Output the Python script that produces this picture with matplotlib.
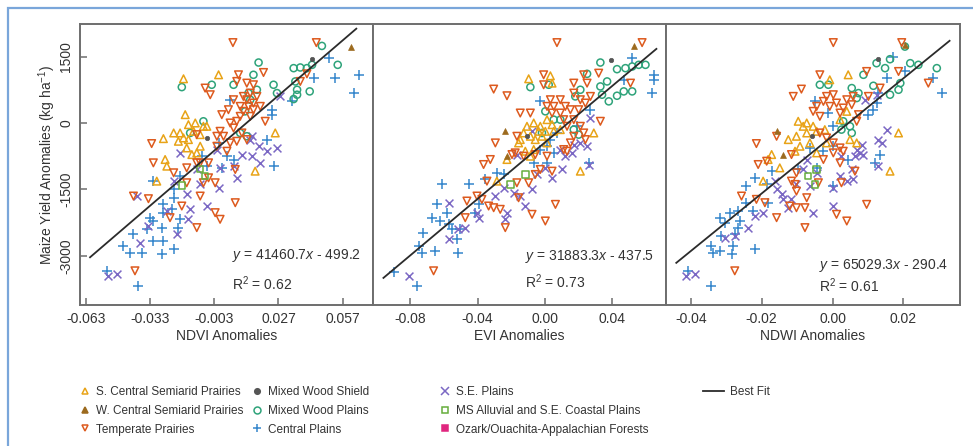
import matplotlib
matplotlib.use("Agg")
import matplotlib.pyplot as plt
from matplotlib.lines import Line2D
from matplotlib.patches import Rectangle

plt.rcParams["font.family"] = ["Liberation Sans", "DejaVu Sans"]
plt.rcParams["mathtext.fontset"] = "custom"
plt.rcParams["mathtext.rm"] = "Liberation Sans"
plt.rcParams["mathtext.it"] = "Liberation Sans:italic"

# ---- data: (anomaly, yield anomaly kg/ha) ----
# NDVI panel
NDVI_SC = [(-0.0268, -353), (-0.0299, -1313), (-0.026, -825), (-0.0252, -975), (-0.0166, 188),
           (-0.0174, 998), (-0.0198, -413), (-0.0151, -38), (-0.0119, 0), (-0.0127, -188),
           (-0.0096, -263), (-0.0081, -75), (-0.0159, -563), (-0.0135, -713), (-0.019, -225),
           (-0.0174, -338), (-0.0096, -525), (-0.022, -225), (-0.001, 1088), (-0.0065, -75),
           (0.0255, -225), (0.0161, -1088), (-0.0112, -675), (-0.0151, -375)]
NDVI_WC = [(0.0609, 1725)]
NDVI_TP = [(0.0057, 1815), (0.0447, 1815), (0.0083, 1088), (0.02, 1140), (0.0122, 900),
           (0.0075, 938), (0.0153, 863), (0.0403, 1110), (0.0372, 938), (-0.0073, 788),
           (-0.0049, 638), (-0.0323, -465), (-0.0315, -900), (-0.0408, -1650), (-0.0338, -1710),
           (-0.0237, -2138), (-0.0182, -1875), (-0.0112, -2363), (-0.0003, -2175), (-0.0026, -2025),
           (0.0068, -1800), (-0.0401, -3338), (-0.0159, -1350), (-0.0112, -900), (-0.0081, -1350),
           (-0.0057, -1238), (-0.0026, -1350), (-0.0096, -1650), (-0.0112, -263), (-0.0057, -900),
           (0.0005, 188), (-0.0003, -188), (0.0013, -300), (0.0044, 0), (0.0075, 38),
           (0.006, -113), (0.0036, 300), (0.0091, 375), (0.0122, 525), (0.0153, 450),
           (0.0106, 600), (0.0138, 675), (0.0169, 600), (0.0185, 375), (0.006, 525),
           (0.0044, -450), (0.0075, -413), (0.0099, -225), (0.0122, -375), (0.0208, 38),
           (0.0029, -638), (0.0068, -1050), (0.0091, 150), (0.0138, 150), (0.0153, 300),
           (0.0106, 263), (0.013, 375), (-0.0018, -300), (-0.0018, -525), (-0.0096, -900),
           (-0.0159, -1013), (-0.022, -1125)]
NDVI_MWS = [(0.0427, 1440), (-0.0065, -338)]
NDVI_MWP = [(0.0473, 1740), (0.0177, 1365), (0.0153, 1088), (0.006, 863), (-0.0042, 863),
            (-0.0182, 810), (0.0341, 1238), (0.0372, 1253), (0.0403, 1238), (0.0427, 1313),
            (0.0547, 1313), (0.0349, 938), (0.0357, 750), (0.0357, 638), (0.0341, 540),
            (0.0416, 713), (0.0247, 863), (0.0169, 750), (0.013, 675), (0.0138, 525),
            (0.0114, 263), (-0.0081, 38), (-0.0143, -225), (0.0091, -225), (0.0122, -300),
            (0.0263, 675)]
NDVI_CP = [(0.0505, 1478), (0.0434, 1005), (0.0536, 1005), (0.0645, 1088), (0.0622, 675),
           (0.0333, 488), (0.0044, 525), (0.0239, 300), (0.0239, 188), (0.0247, -975),
           (0.0216, -375), (-0.001, -450), (0.0029, -750), (0.006, -825), (0.0005, -1013),
           (-0.0088, -750), (-0.0065, -975), (-0.019, -1200), (-0.022, -1500), (-0.022, -1688),
           (-0.0268, -1838), (-0.0229, -1950), (-0.019, -2175), (-0.0198, -2363), (-0.0268, -2025),
           (-0.033, -2138), (-0.0315, -2213), (-0.0276, -2363), (-0.0346, -2400), (-0.0315, -2663),
           (-0.0268, -2663), (-0.0408, -2513), (-0.0455, -2775), (-0.0424, -2925), (-0.037, -2940),
           (-0.0276, -2963), (-0.022, -2850), (-0.0315, -1313), (-0.0533, -3338), (-0.0385, -3675)]
NDVI_SE = [(-0.0525, -3450), (-0.0486, -3413), (-0.0393, -1650), (-0.0377, -2700), (-0.0338, -2325),
           (-0.0252, -1988), (-0.0206, -2513), (-0.0151, -2175), (-0.0143, -1950), (-0.0159, -1613),
           (-0.019, -675), (-0.022, -1313), (-0.0096, -1388), (-0.0065, -1875), (-0.001, -1463),
           (-0.0003, -1013), (0.0075, -1238), (0.006, -975), (0.0099, -713), (0.0146, -750),
           (0.0177, -525), (0.0146, -300), (0.0216, -638), (0.0263, -563), (0.0185, -900),
           (0.0138, -375), (0.0278, 600), (-0.0018, -600), (-0.0112, -1050)]
NDVI_MS = [(-0.0182, -1410), (-0.0096, -1035), (-0.0073, -1200)]
NDVI_OZ = []

# EVI panel
EVI_SC = [(-0.0097, 998), (0.0032, 1065), (0.0042, 900), (-0.0147, -375), (-0.0157, -450),
          (-0.0226, -825), (-0.0107, -75), (-0.0067, 0), (-0.0028, -75), (-0.0038, -188),
          (-0.0087, -300), (-0.0058, -375), (-0.0018, -300), (0.0002, -188), (0.0012, 75),
          (0.0042, -38), (0.0052, -188), (-0.0117, -638), (-0.0087, -750), (-0.0067, -600),
          (0.0012, -450), (0.0091, -150), (0.021, -1088), (0.029, -225), (-0.0286, -1313),
          (-0.0127, -225)]
EVI_WC = [(-0.0236, -173), (-0.0226, -735), (0.0531, 1740)]
EVI_TP = [(0.0071, 1815), (0.0577, 1815), (-0.0305, 765), (-0.0226, 615), (-0.0008, 1088),
          (-0.0008, 863), (0.0319, 1125), (0.0508, 900), (0.0171, 900), (0.023, 1088),
          (0.025, 900), (0.0171, 675), (0.021, 525), (0.0091, 525), (0.0121, 375),
          (0.0052, 375), (0.0042, 225), (0.0091, 225), (0.0151, 300), (0.02, 300),
          (0.024, 450), (0.027, 600), (0.0171, 75), (0.0111, 75), (0.0131, -75),
          (0.021, -75), (0.023, -225), (0.024, -375), (0.0329, 38), (0.0151, -450),
          (0.0111, -600), (0.0131, -638), (-0.0147, 225), (-0.0087, 225), (-0.0167, -300),
          (-0.0177, -675), (-0.0127, -750), (-0.0295, -450), (-0.0325, -825), (-0.0365, -938),
          (-0.0345, -1313), (-0.0404, -1650), (-0.0464, -1763), (-0.0474, -2138), (-0.0662, -3338),
          (-0.0375, -1725), (-0.0335, -1875), (-0.0305, -1913), (-0.0266, -1950), (-0.0236, -2363),
          (-0.0157, -1688), (-0.0167, -1350), (-0.0097, -1350), (-0.0077, -2063), (0.0002, -2213),
          (0.0062, -1838), (-0.0058, -1163), (-0.0028, -1050), (0.0042, -1088), (0.0012, -750),
          (-0.0058, -713), (-0.0196, -713), (0.0012, 375), (0.0032, 525), (0.0171, -300)]
EVI_MWS = [(0.0393, 1425), (-0.0107, -300)]
EVI_MWP = [(0.0329, 1365), (0.0428, 1215), (0.0478, 1238), (0.0518, 1275), (0.0557, 1313),
           (0.0597, 1313), (-0.0087, 810), (0.0022, 863), (0.025, 1110), (0.0329, 825),
           (0.0369, 938), (0.0379, 488), (0.0428, 615), (0.0468, 713), (0.0518, 713),
           (0.0339, 638), (0.018, 600), (0.021, 750), (0.0171, -150), (0.02, -263),
           (0.0091, 75), (0.0052, 75), (0.0002, 263), (-0.0018, -225)]
EVI_CP = [(-0.09, -3375), (-0.0761, -3675), (-0.0751, -2775), (-0.0722, -2475), (-0.0732, -2925),
          (-0.0652, -2888), (-0.0672, -2138), (-0.0642, -1838), (-0.0613, -1388), (-0.0623, -2213),
          (-0.0583, -2025), (-0.0553, -2400), (-0.0523, -2625), (-0.0514, -2925), (-0.0504, -2400),
          (-0.0573, -2288), (-0.0454, -1388), (-0.0414, -2025), (-0.0395, -1838), (-0.0355, -1275),
          (-0.0286, -1125), (-0.0246, -1163), (-0.0028, 488), (-0.0028, -600), (0.0012, -525),
          (0.0052, -675), (0.0012, -900), (-0.0067, -900), (0.026, -900), (0.027, 300),
          (0.0518, 1463), (0.0646, 1088), (0.0646, 975), (0.0637, 675), (0.0468, 975),
          (0.0032, -375), (0.0071, -225), (0.019, -75)]
EVI_SE = [(-0.0811, -3450), (-0.0573, -1800), (-0.0573, -2625), (-0.0514, -2400), (-0.0474, -2363),
          (-0.0404, -2025), (-0.0395, -2138), (-0.0295, -1650), (-0.0246, -1463), (-0.0226, -2025),
          (-0.0236, -2175), (-0.0186, -1575), (-0.0147, -1650), (-0.0117, -1875), (-0.0077, -1500),
          (-0.0048, -1163), (0.0002, -1013), (0.0042, -1238), (0.0101, -1050), (0.0121, -750),
          (0.0161, -675), (0.0171, -488), (0.021, -450), (0.025, -525), (0.026, -938),
          (0.027, 113), (-0.0077, -188), (-0.0167, -713), (0.0091, -600)]
EVI_MS = [(-0.0117, -1163), (-0.0206, -1388)]
EVI_OZ = []

# NDWI panel
NDWI_SC = [(0.0044, 1088), (-0.0008, 975), (-0.0102, -300), (-0.0125, -375), (-0.0083, -75),
           (-0.0073, 0), (-0.0055, -75), (-0.0045, -188), (-0.0022, -150), (0.0021, 75),
           (0.004, 263), (-0.0073, -225), (-0.0092, -525), (-0.0064, -450), (-0.0045, -675),
           (-0.0106, -638), (-0.0172, -713), (-0.0149, -1013), (-0.0182, -825), (-0.0196, -1313),
           (0.0068, -450), (0.0049, -375), (0.0186, -225), (0.0162, -1088), (-0.0097, 38),
           (-0.0017, -450)]
NDWI_WC = [(-0.0158, -188), (-0.0139, -713), (0.0204, 1763)]
NDWI_TP = [(0.0002, 1815), (0.0195, 1815), (-0.0111, 600), (-0.0088, 765), (-0.0036, 1088),
           (0.0002, 638), (-0.0017, 600), (0.0096, 1163), (0.0134, 788), (0.0186, 1163),
           (0.027, 900), (0.0101, 600), (-0.0045, 375), (-0.0026, 488), (-0.0008, 375),
           (0.0011, 450), (0.003, 338), (0.004, 525), (0.0058, 600), (0.0054, 413),
           (0.0021, 225), (0.0073, 188), (0.0068, 38), (-0.0055, 263), (-0.0036, 150),
           (-0.0036, -225), (-0.0017, -338), (0.0002, -450), (0.0021, -563), (0.003, -638),
           (0.0002, -675), (-0.0026, -825), (-0.0158, -300), (-0.0215, -465), (-0.021, -938),
           (-0.0186, -863), (-0.0116, -713), (-0.0106, -1388), (-0.0102, -1538), (-0.0116, -1313),
           (-0.004, -1350), (0.0025, -1350), (0.0063, -1088), (-0.0257, -1650), (-0.0215, -1725),
           (-0.0191, -1800), (-0.0158, -2138), (-0.0121, -1875), (-0.0102, -1913), (-0.0078, -1913),
           (-0.0073, -1688), (-0.0078, -2363), (0.0011, -2063), (0.004, -2213), (0.0096, -1838),
           (-0.0276, -3338), (-0.0102, -1125), (0.0021, -900)]
NDWI_MWS = [(0.0129, 1440), (-0.0059, -300)]
NDWI_MWP = [(0.0087, 1088), (0.0124, 1350), (0.0148, 1238), (0.0162, 1440), (0.0204, 1725),
            (0.0219, 1350), (0.0242, 1313), (0.0294, 1238), (0.0115, 840), (0.0162, 638),
            (0.0186, 750), (0.0191, 900), (-0.0036, 863), (-0.0012, 863), (0.0054, 788),
            (0.0073, 675), (0.0068, 563), (0.0049, -75), (0.0054, -225), (0.003, 38),
            (0.0025, -150)]
NDWI_CP = [(-0.0342, -3675), (-0.0408, -3338), (-0.0342, -2775), (-0.0337, -2925), (-0.0318, -2888),
           (-0.0285, -2963), (-0.028, -2775), (-0.0275, -2513), (-0.0314, -2550), (-0.0266, -2363),
           (-0.0262, -2213), (-0.0304, -2250), (-0.0318, -2138), (-0.029, -2025), (-0.0266, -1988),
           (-0.0224, -1988), (-0.0219, -2850), (-0.0243, -1425), (-0.0219, -1238), (-0.0172, -1088),
           (-0.0186, -1388), (-0.0182, -1800), (-0.0243, -1800), (-0.0097, -1050), (-0.005, 488),
           (-0.0012, 225), (0.0002, -75), (0.0002, -525), (-0.0026, -638), (-0.0064, -563),
           (-0.0045, -1013), (0.0002, -1425), (0.0101, 188), (0.0115, 300), (0.0124, 450),
           (0.0129, 675), (0.0153, 1013), (0.0171, 1500), (0.0134, -713), (0.012, -900),
           (0.0204, 1163), (0.0284, 1013), (0.0308, 675), (0.0044, -825)]
NDWI_SE = [(-0.0413, -3450), (-0.0389, -3413), (-0.0304, -2588), (-0.0276, -2550), (-0.0238, -2363),
           (-0.0219, -2100), (-0.0196, -2025), (-0.0158, -1500), (-0.0163, -1313), (-0.0144, -1613),
           (-0.0139, -1725), (-0.0125, -1913), (-0.0116, -1725), (-0.0102, -1388), (-0.0083, -1050),
           (-0.0064, -1425), (-0.0055, -2025), (-0.0045, -1125), (0.0002, -1463), (0.0002, -1875),
           (0.002, -1200), (0.004, -1313), (0.0054, -1050), (0.0058, -1275), (0.0068, -600),
           (0.0077, -675), (0.0082, -488), (0.0087, -713), (0.0063, -750), (0.0091, 525),
           (0.0124, 638), (0.0129, -375), (0.0138, -450), (0.0153, -150), (0.0129, -975),
           (0.0025, -750), (-0.0073, -825)]
NDWI_MS = [(-0.0045, -1050), (-0.005, -1388), (-0.0069, -1200)]
NDWI_OZ = []

# fitted lines: slope, intercept, x-extent of the drawn line
FITS = [(41460.7, -499.2, -0.0611, 0.0634), (31883.3, -437.5, -0.096, 0.0662),
        (65029.3, -290.4, -0.0441, 0.033)]
R2 = [0.62, 0.73, 0.61]
XLABELS = ["NDVI Anomalies", "EVI Anomalies", "NDWI Anomalies"]
XTICKS = [[-0.063, -0.033, -0.003, 0.027, 0.057], [-0.08, -0.04, 0.0, 0.04], [-0.04, -0.02, 0.0, 0.02]]
XTICKLABELS = [["-0.063", "-0.033", "-0.003", "0.027", "0.057"],
               ["-0.08", "-0.04", "0.00", "0.04"], ["-0.04", "-0.02", "0.00", "0.02"]]
XLIMS = [(-0.0658, 0.0712), (-0.1022, 0.0719), (-0.047, 0.0358)]
YTICKS = [-3000, -1500, 0, 1500]

REGIONS = ["S. Central Semiarid Prairies", "W. Central Semiarid Prairies", "Temperate Prairies",
           "Mixed Wood Shield", "Mixed Wood Plains", "Central Plains",
           "S.E. Plains", "MS Alluvial and S.E. Coastal Plains", "Ozark/Ouachita-Appalachian Forests"]
PANELS = [
    [NDVI_SC, NDVI_WC, NDVI_TP, NDVI_MWS, NDVI_MWP, NDVI_CP, NDVI_SE, NDVI_MS, NDVI_OZ],
    [EVI_SC, EVI_WC, EVI_TP, EVI_MWS, EVI_MWP, EVI_CP, EVI_SE, EVI_MS, EVI_OZ],
    [NDWI_SC, NDWI_WC, NDWI_TP, NDWI_MWS, NDWI_MWP, NDWI_CP, NDWI_SE, NDWI_MS, NDWI_OZ],
]

# marker, colour, filled, size
STYLE = {
    "S. Central Semiarid Prairies": ("^", "#E8A317", False, 30),
    "W. Central Semiarid Prairies": ("^", "#9C6A1E", True, 18),
    "Temperate Prairies": ("v", "#DD5A1E", False, 30),
    "Mixed Wood Shield": ("o", "#555555", True, 10),
    "Mixed Wood Plains": ("o", "#2EA37A", False, 26),
    "Central Plains": ("+", "#3586CC", False, 50),
    "S.E. Plains": ("x", "#7B68C4", False, 32),
    "MS Alluvial and S.E. Coastal Plains": ("s", "#66AD3C", False, 22),
    "Ozark/Ouachita-Appalachian Forests": ("s", "#E0267F", True, 20),
}
DRAW_ORDER = [5, 6, 4, 0, 2, 1, 3, 7, 8]
SPINE = "#6E6E6E"
TXT = "#333333"

fig = plt.figure(figsize=(9.73, 4.46), dpi=100)
fig.patches.append(Rectangle((8 / 973, -0.1), 1.2, (438 / 446) + 0.1, transform=fig.transFigure,
                             fill=False, edgecolor="#7AA6DA", linewidth=1.6, zorder=0))

lefts = [80 / 973, 373 / 973, 666 / 973]
widths = [293 / 973, 293 / 973, 293.5 / 973]
bottom, height = 141 / 446, 281 / 446
eq_y = [0.175, 0.172, 0.14]
r2_y = [0.076, 0.082, 0.068]
for i in range(3):
    ax = fig.add_axes([lefts[i], bottom, widths[i], height])
    for k in DRAW_ORDER:
        pts = PANELS[i][k]
        if not pts:
            continue
        mk, col, filled, s = STYLE[REGIONS[k]]
        xs = [p[0] for p in pts]
        ys = [p[1] for p in pts]
        if mk in ("+", "x"):
            ax.scatter(xs, ys, marker=mk, s=s, c=col, linewidths=1.1, zorder=2)
        elif filled:
            ax.scatter(xs, ys, marker=mk, s=s, c=col, edgecolors=col, linewidths=0.5, zorder=3)
        else:
            ax.scatter(xs, ys, marker=mk, s=s, facecolors="none", edgecolors=col,
                       linewidths=1.1, zorder=2)
    a, b, x0, x1 = FITS[i]
    ax.plot([x0, x1], [a * x0 + b, a * x1 + b], color="#2b2b2b", lw=1.3, zorder=4)
    ax.set_xlim(*XLIMS[i])
    ax.set_ylim(-4110, 2235)
    ax.set_xticks(XTICKS[i])
    ax.set_xticklabels(XTICKLABELS[i])
    ax.set_yticks(YTICKS)
    ax.tick_params(direction="in", length=5, width=1.1, color=SPINE, labelsize=10,
                   labelcolor=TXT, pad=5)
    if i == 0:
        ax.set_yticklabels([str(v) for v in YTICKS], rotation=90, va="center")
        ax.set_ylabel("Maize Yield Anomalies (kg ha$^{-1}$)", fontsize=10, color=TXT, labelpad=1)
    else:
        ax.tick_params(axis="y", left=False, labelleft=False)
    ax.set_xlabel(XLABELS[i], fontsize=10, color=TXT, labelpad=2)
    for sp in ax.spines.values():
        sp.set_color(SPINE)
        sp.set_linewidth(1.4)
    sign = "-" if b < 0 else "+"
    ax.text(0.52, eq_y[i], f"$y$ = {a:.1f}$x$ {sign} {abs(b):.1f}", transform=ax.transAxes,
            fontsize=10, color=TXT, ha="left", va="center")
    ax.text(0.52, r2_y[i], f"R$^2$ = {R2[i]:.2f}", transform=ax.transAxes,
            fontsize=10, color=TXT, ha="left", va="center")


def handle(name):
    mk, col, filled, _ = STYLE[name]
    if mk in ("+", "x"):
        return Line2D([], [], ls="", marker=mk, color=col, ms=6, mew=1.1)
    return Line2D([], [], ls="", marker=mk, ms=5 if not filled else 4,
                  markerfacecolor=col if filled else "none", markeredgecolor=col, mew=1.1)


leg_kw = dict(loc="upper left", frameon=False, borderpad=0, labelcolor=TXT, fontsize=8.5)
col_x = [74 / 973, 246 / 973, 434 / 973, 697 / 973]
for c in range(3):
    names = REGIONS[3 * c:3 * c + 3]
    fig.legend([handle(n) for n in names], names, bbox_to_anchor=(col_x[c], 66 / 446),
               handlelength=0.8, handletextpad=0.6, labelspacing=0.58, **leg_kw)
fig.legend([Line2D([], [], color="#2b2b2b", lw=1.3)], ["Best Fit"],
           bbox_to_anchor=(col_x[3], 66 / 446), handlelength=1.8, handletextpad=0.5, **leg_kw)

fig.savefig("out.png", dpi=100)
